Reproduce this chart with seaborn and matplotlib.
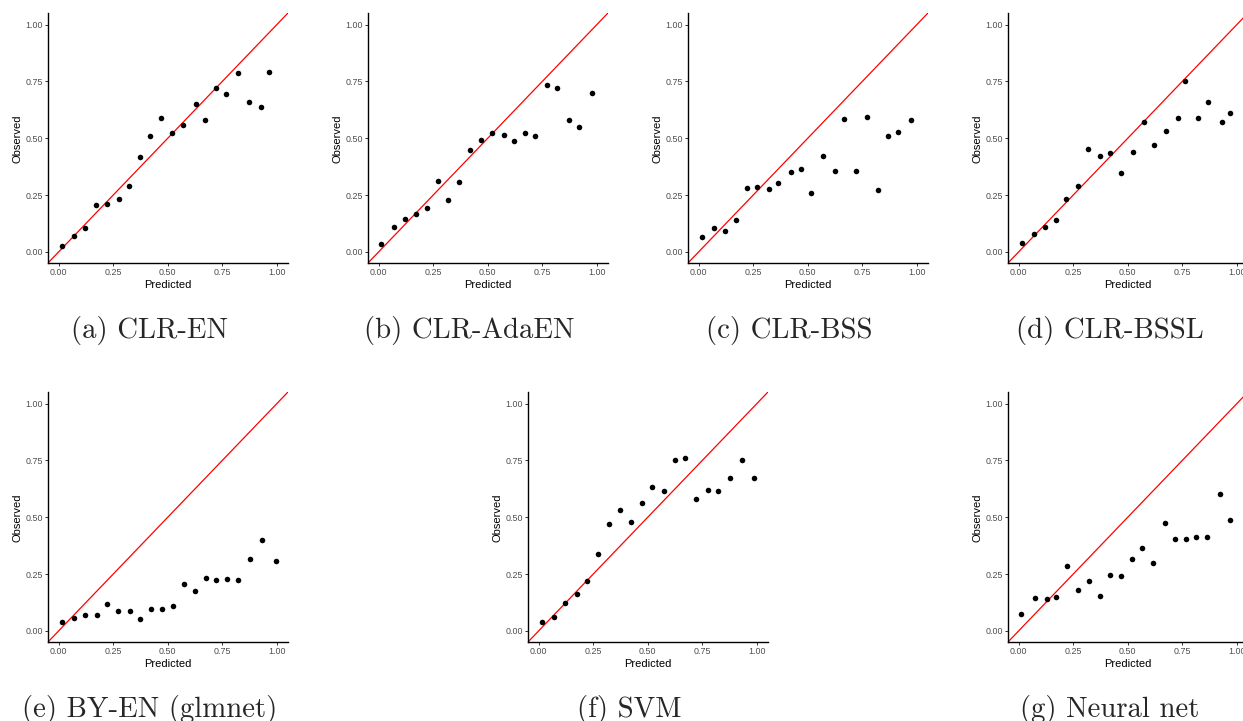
import matplotlib
matplotlib.use("Agg")
import matplotlib.pyplot as plt
import seaborn as sns

# ---------------- data ----------------
captions = ["(a) CLR-EN", "(b) CLR-AdaEN", "(c) CLR-BSS", "(d) CLR-BSSL",
            "(e) BY-EN (glmnet)", "(f) SVM", "(g) Neural net"]

tick_values = [0.0, 0.25, 0.5, 0.75, 1.0]
tick_labels = ["0.00", "0.25", "0.50", "0.75", "1.00"]

pred_a = [0.017, 0.071, 0.122, 0.173, 0.222, 0.275, 0.322, 0.372, 0.421, 0.471,
          0.521, 0.571, 0.628, 0.670, 0.723, 0.769, 0.822, 0.872, 0.927, 0.965]
obs_a = [0.028, 0.072, 0.107, 0.205, 0.213, 0.232, 0.290, 0.418, 0.510, 0.588,
         0.523, 0.559, 0.651, 0.581, 0.720, 0.695, 0.789, 0.660, 0.639, 0.793]

pred_b = [0.009, 0.071, 0.123, 0.171, 0.220, 0.271, 0.320, 0.370, 0.420, 0.471,
          0.521, 0.573, 0.621, 0.670, 0.718, 0.771, 0.818, 0.871, 0.917, 0.979]
obs_b = [0.035, 0.111, 0.144, 0.169, 0.195, 0.314, 0.230, 0.308, 0.450, 0.494,
         0.523, 0.516, 0.490, 0.523, 0.509, 0.735, 0.721, 0.579, 0.548, 0.699]

pred_c = [0.015, 0.071, 0.120, 0.171, 0.220, 0.268, 0.324, 0.365, 0.424, 0.471,
          0.514, 0.571, 0.623, 0.668, 0.723, 0.770, 0.824, 0.870, 0.915, 0.974]
obs_c = [0.067, 0.107, 0.094, 0.141, 0.283, 0.287, 0.279, 0.304, 0.353, 0.365,
         0.258, 0.421, 0.355, 0.584, 0.358, 0.592, 0.273, 0.512, 0.526, 0.582]

pred_d = [0.017, 0.071, 0.121, 0.173, 0.218, 0.271, 0.320, 0.371, 0.418, 0.470,
          0.523, 0.576, 0.621, 0.674, 0.729, 0.764, 0.820, 0.867, 0.930, 0.971]
obs_d = [0.040, 0.079, 0.109, 0.139, 0.233, 0.289, 0.453, 0.422, 0.434, 0.346,
         0.440, 0.572, 0.469, 0.531, 0.588, 0.751, 0.591, 0.658, 0.572, 0.610]

pred_e = [0.015, 0.072, 0.122, 0.174, 0.224, 0.273, 0.325, 0.375, 0.425, 0.476,
          0.523, 0.576, 0.623, 0.675, 0.723, 0.774, 0.823, 0.875, 0.930, 0.997]
obs_e = [0.040, 0.059, 0.069, 0.069, 0.119, 0.087, 0.089, 0.051, 0.097, 0.097,
         0.111, 0.205, 0.177, 0.233, 0.226, 0.227, 0.224, 0.318, 0.402, 0.308]

pred_f = [0.015, 0.072, 0.122, 0.174, 0.223, 0.274, 0.322, 0.373, 0.425, 0.473,
          0.521, 0.576, 0.627, 0.669, 0.723, 0.776, 0.823, 0.875, 0.930, 0.988]
obs_f = [0.041, 0.062, 0.125, 0.164, 0.221, 0.339, 0.471, 0.534, 0.481, 0.563,
         0.635, 0.617, 0.752, 0.761, 0.579, 0.619, 0.616, 0.673, 0.752, 0.673]

pred_g = [0.012, 0.076, 0.132, 0.170, 0.221, 0.271, 0.323, 0.371, 0.418, 0.468,
          0.518, 0.567, 0.618, 0.671, 0.715, 0.767, 0.815, 0.862, 0.923, 0.968]
obs_g = [0.076, 0.147, 0.142, 0.150, 0.287, 0.182, 0.221, 0.155, 0.245, 0.240,
         0.315, 0.367, 0.301, 0.477, 0.403, 0.403, 0.412, 0.412, 0.604, 0.488]

preds = [pred_a, pred_b, pred_c, pred_d, pred_e, pred_f, pred_g]
obss = [obs_a, obs_b, obs_c, obs_d, obs_e, obs_f, obs_g]

# ---------------- layout ----------------
W, H = 1243, 721
AX_W, AX_H = 240.0, 250.0
# (left spine x, top y) of each panel in pixels
positions = [(47.7, 13.3), (367.7, 13.3), (687.7, 13.3), (1007.7, 13.3),
             (47.7, 392.3), (527.7, 392.3), (1007.7, 392.3)]
caption_baselines = [338, 338, 338, 338, 717, 717, 717]

sns.set_style("ticks")
plt.rcParams['font.family'] = ['Liberation Sans', 'DejaVu Sans']

fig = plt.figure(figsize=(W / 100, H / 100), dpi=100)

for cap, px, ob, (lx, ty), base in zip(captions, preds, obss, positions, caption_baselines):
    ax = fig.add_axes([lx / W, 1 - (ty + AX_H) / H, AX_W / W, AX_H / H])
    ax.set_facecolor('white')
    ax.axline((0, 0), slope=1, color='#FF0000', lw=0.9, zorder=1)
    sns.scatterplot(x=px, y=ob, ax=ax, color='black', s=16, linewidth=0,
                    zorder=3, legend=False)
    ax.set_xlim(-0.05, 1.05)
    ax.set_ylim(-0.05, 1.05)
    ax.set_xticks(tick_values)
    ax.set_xticklabels(tick_labels)
    ax.set_yticks(tick_values)
    ax.set_yticklabels(tick_labels)
    for s in ['top', 'right']:
        ax.spines[s].set_visible(False)
    for s in ['left', 'bottom']:
        ax.spines[s].set_color('black')
        ax.spines[s].set_linewidth(1.0)
    ax.tick_params(length=2.0, width=0.7, color='#333333', labelcolor='#4D4D4D',
                   labelsize=6.4, pad=1.2)
    ax.set_xlabel('Predicted', fontsize=8, labelpad=2, color='black')
    ax.set_ylabel('Observed', fontsize=8, labelpad=2.5, color='black')
    ax.grid(False)
    fig.text((lx + 101.8) / W, 1 - base / H, cap, ha='center', va='baseline',
             fontsize=20.7, family=['cmr10', 'DejaVu Serif'])

fig.savefig('out.png', dpi=100, facecolor='white')
